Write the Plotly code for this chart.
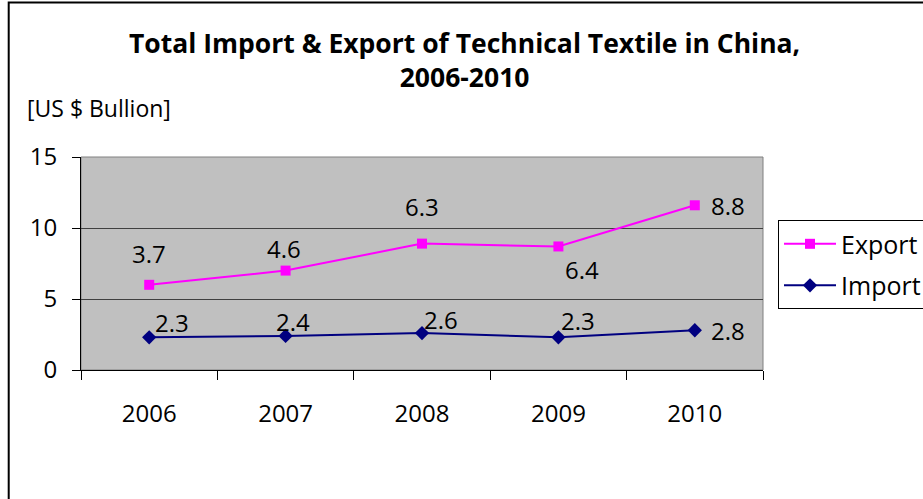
import plotly.graph_objects as go

years = ["2006", "2007", "2008", "2009", "2010"]
imports = [2.3, 2.4, 2.6, 2.3, 2.8]
exports = [3.7, 4.6, 6.3, 6.4, 8.8]
# stacked line chart: export line drawn on top of import
export_stacked = [i + e for i, e in zip(imports, exports)]
xpos = list(range(len(years)))

title_text = "<b>Total Import & Export of Technical Textile in China,<br>2006-2010</b>"
unit_text = "[US $ Bullion]"

FONT = "Open Sans"

fig = go.Figure()
fig.add_trace(go.Scatter(
    x=xpos, y=export_stacked, name="Export", mode="lines+markers",
    line=dict(color="#FF00FF", width=2),
    marker=dict(symbol="square", size=10, color="#FF00FF"),
    legendgroup="a",
))
fig.add_trace(go.Scatter(
    x=xpos, y=imports, name="Import", mode="lines+markers",
    line=dict(color="#000080", width=2),
    marker=dict(symbol="diamond", size=11, color="#000080"),
    legendgroup="b",
))

# data labels
exp_shift = [(0, 31), (-2, 22), (0, 37), (24, -23), (33, 0)]
imp_shift = [(23, 15), (7, 14), (19, 14), (20, 17), (33, 0)]
for k in xpos:
    fig.add_annotation(x=k, y=export_stacked[k], text=str(exports[k]), showarrow=False,
                       xshift=exp_shift[k][0], yshift=exp_shift[k][1],
                       font=dict(family=FONT, size=24, color="black"))
    fig.add_annotation(x=k, y=imports[k], text=str(imports[k]), showarrow=False,
                       xshift=imp_shift[k][0], yshift=imp_shift[k][1],
                       font=dict(family=FONT, size=24, color="black"))

fig.add_annotation(xref="paper", yref="paper", x=0.563, y=1.455, text=title_text,
                   showarrow=False, xanchor="center", yanchor="middle",
                   font=dict(family=FONT, size=26.5, color="black"))
fig.add_annotation(xref="paper", yref="paper", x=-0.082, y=1.23, text=unit_text,
                   showarrow=False, xanchor="left", yanchor="middle",
                   font=dict(family=FONT, size=23, color="black"))

# plot area border (grey) and outer chart border
fig.add_shape(type="rect", xref="paper", yref="paper", x0=0, y0=0, x1=1, y1=1,
              line=dict(color="#808080", width=1), layer="below")
fig.add_shape(type="rect", xref="paper", yref="paper", x0=-0.106, y0=-1, x1=2, y1=1.725,
              line=dict(color="black", width=2))

boundaries = [k - 0.5 for k in xpos] + [xpos[-1] + 0.5]

fig.update_layout(
    width=923, height=499,
    margin=dict(l=81, r=160, t=157, b=129, autoexpand=False),
    paper_bgcolor="white", plot_bgcolor="#C0C0C0",
    font=dict(family=FONT, size=24, color="black"),
    showlegend=True,
    legend=dict(x=1.022, y=0.704, xanchor="left", yanchor="top",
                bordercolor="black", borderwidth=1, bgcolor="white",
                font=dict(family=FONT, size=25), tracegroupgap=6,
                traceorder="grouped", itemwidth=52),
    xaxis=dict(range=[-0.5, 4.5], tickvals=xpos, ticktext=years, ticks="",
               minor=dict(tickvals=boundaries, ticks="outside", ticklen=9,
                          tickcolor="black", showgrid=False),
               showline=True, linecolor="black", linewidth=1,
               showgrid=False, zeroline=False, ticklabelstandoff=22,
               tickfont=dict(family=FONT, size=24)),
    yaxis=dict(range=[0, 15], dtick=5, ticks="outside", ticklen=8, tickcolor="black",
               showline=True, linecolor="black", linewidth=1,
               showgrid=True, gridcolor="#404040", gridwidth=1, zeroline=False,
               ticklabelstandoff=10, tickfont=dict(family=FONT, size=24)),
)

fig.write_html("out.html")
